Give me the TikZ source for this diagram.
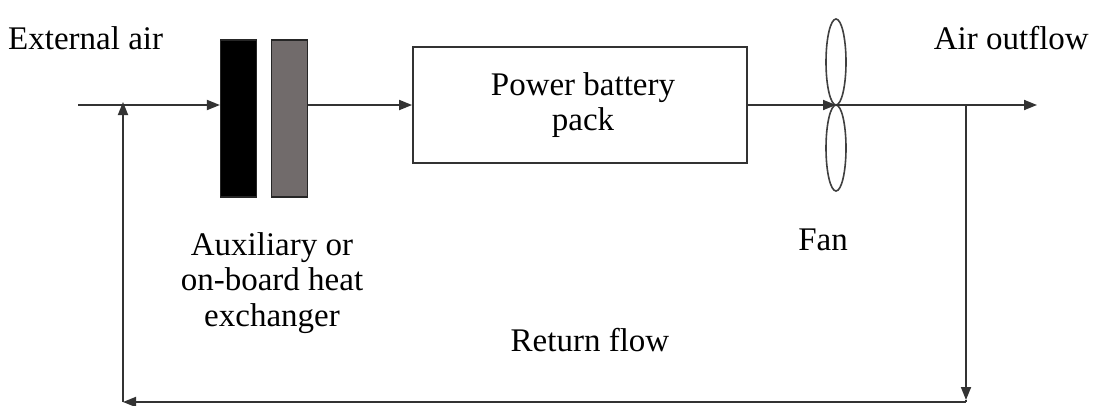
\documentclass[tikz,border=0pt]{standalone}
\usepackage{fontspec}
\setmainfont{Liberation Serif}
\usetikzlibrary{arrows.meta,shapes.geometric}
\begin{document}
\begin{tikzpicture}[x=1pt,y=-1pt,
  line/.style={draw=black!80,line width=1.8pt},
  arr/.style={line,-{Triangle[length=13pt,width=10pt]}},
  lbl/.style={font=\fontsize{33}{35.5}\selectfont,align=center,inner sep=0pt},
  bar/.style={draw=black!85,line width=1.2pt,minimum width=36pt,minimum height=157pt,inner sep=0pt},
  blade/.style={draw=black!75,line width=1.6pt,ellipse,minimum width=20pt,minimum height=86pt,inner sep=0pt}]
\useasboundingbox (0,0) rectangle (1097,405);
% main flow
\coordinate (in) at (78,105);
\node[bar,fill=black] (hx1) at (238.5,118.5) {};
\node[bar,fill={rgb,255:red,113;green,107;blue,107}] (hx2) at (289.5,118.5) {};
\node[draw=black!80,line width=1.8pt,minimum width=334pt,minimum height=116pt,inner sep=0pt] (pack) at (580,105) {};
\node[lbl] at (583,105) {Power battery\\pack};
\coordinate (fan) at (836,105);
\node[blade] (b1) at (836,62) {};
\node[blade] (b2) at (836,148) {};
\coordinate (out) at (1037,105);
\coordinate (br) at (966,105);
\coordinate (jn) at (123,105);
\coordinate (c1) at (966,400);
\coordinate (c2) at (123,402);
\draw[arr] (in) -- (hx1.west|-in);
\draw[arr] (hx2.east|-in) -- (pack.west|-in);
\draw[arr] (pack.east|-in) -- (fan);
\draw[arr] (fan) -- (out);
% return flow
\draw[arr] (br) -- (c1);
\draw[line] (c1) -- (966,402);
\draw[arr] (966,402) -- (c2);
\draw[arr] (c2) -- ([yshift=3pt]jn);
% labels
\node[lbl,anchor=west] (ext) at (8,38) {External air};
\node[lbl,anchor=east] (aout) at (1089,38) {Air outflow};
\node[lbl] (hxl) at (272,283) {Auxiliary or\\on-board heat\\exchanger};
\node[lbl] (fanl) at (823,240) {Fan};
\node[lbl] (ret) at (590,340) {Return flow};
\end{tikzpicture}
\end{document}
